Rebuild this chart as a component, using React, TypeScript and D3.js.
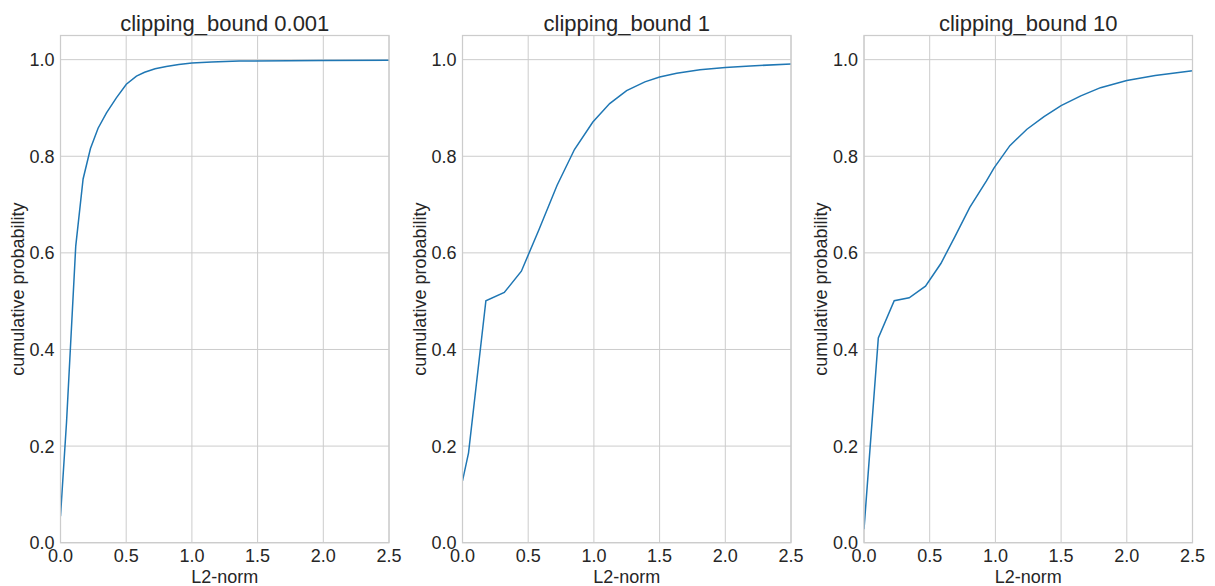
import React from "react";
import * as d3 from "d3";

const titles = ["clipping_bound 0.001", "clipping_bound 1", "clipping_bound 10"];

const xTicks = [0, 0.5, 1.0, 1.5, 2.0, 2.5];
const yTicks = [0, 0.2, 0.4, 0.6, 0.8, 1.0];

const x1 = [0, 0.046, 0.116, 0.172, 0.228, 0.286, 0.35, 0.425, 0.501, 0.578, 0.64, 0.72, 0.805, 0.9, 1.0, 1.15, 1.36, 2.0, 2.5];
const y1 = [0.055, 0.25, 0.614, 0.753, 0.816, 0.858, 0.89, 0.921, 0.949, 0.966, 0.974, 0.981, 0.986, 0.99, 0.993, 0.995, 0.997, 0.998, 0.999];

const x2 = [0, 0.046, 0.178, 0.318, 0.448, 0.58, 0.72, 0.852, 0.992, 1.12, 1.249, 1.388, 1.5, 1.63, 1.807, 2.0, 2.19, 2.5];
const y2 = [0.128, 0.186, 0.501, 0.518, 0.562, 0.647, 0.74, 0.814, 0.871, 0.909, 0.936, 0.954, 0.964, 0.972, 0.979, 0.984, 0.987, 0.991];

const x3 = [0, 0.109, 0.23, 0.344, 0.468, 0.585, 0.691, 0.805, 0.932, 0.99, 1.11, 1.24, 1.37, 1.5, 1.65, 1.8, 2.0, 2.216, 2.5];
const y3 = [0.028, 0.424, 0.501, 0.507, 0.531, 0.578, 0.633, 0.694, 0.749, 0.776, 0.822, 0.856, 0.882, 0.905, 0.925, 0.942, 0.957, 0.967, 0.977];

const seriesX = [x1, x2, x3];
const seriesY = [y1, y2, y3];

const W = 1215;
const H = 586;
const panelLefts = [60.5, 462.5, 864];
const panelW = 328.5;
const top = 35.5;
const bottom = 542.7;
const font = "'Liberation Sans', Arial, Helvetica, sans-serif";
const textColor = "#262626";
const gridColor = "#cccccc";

function Panel({ idx }: { idx: number }) {
  const left = panelLefts[idx];
  const x = d3.scaleLinear().domain([0, 2.5]).range([left, left + panelW]);
  const y = d3.scaleLinear().domain([0, 1.05]).range([bottom, top]);
  const xs = seriesX[idx];
  const ys = seriesY[idx];
  const pts: [number, number][] = xs.map((v, i) => [v, ys[i]]);
  const line = d3
    .line<[number, number]>()
    .x((d) => x(d[0]))
    .y((d) => y(d[1]));
  const clipId = `clip${idx}`;
  return (
    <g>
      <defs>
        <clipPath id={clipId}>
          <rect x={left} y={top} width={panelW} height={bottom - top} />
        </clipPath>
      </defs>
      {xTicks.map((t) => (
        <line key={"gx" + t} x1={x(t)} x2={x(t)} y1={top} y2={bottom} stroke={gridColor} strokeWidth={1} />
      ))}
      {yTicks.map((t) => (
        <line key={"gy" + t} x1={left} x2={left + panelW} y1={y(t)} y2={y(t)} stroke={gridColor} strokeWidth={1} />
      ))}
      <path d={line(pts) || ""} fill="none" stroke="#1f77b4" strokeWidth={1.5} clipPath={`url(#${clipId})`} />
      <rect x={left} y={top} width={panelW} height={bottom - top} fill="none" stroke={gridColor} strokeWidth={1.25} />
      {xTicks.map((t) => (
        <text key={"tx" + t} x={x(t)} y={561.5} textAnchor="middle" fontSize={18} fill={textColor} fontFamily={font}>
          {t.toFixed(1)}
        </text>
      ))}
      {yTicks.map((t) => (
        <text key={"ty" + t} x={left - 6} y={y(t) + 6.5} textAnchor="end" fontSize={18} fill={textColor} fontFamily={font}>
          {t.toFixed(1)}
        </text>
      ))}
      <text x={left + panelW / 2} y={583} textAnchor="middle" fontSize={18} fill={textColor} fontFamily={font}>
        L2-norm
      </text>
      <text
        transform={`translate(${left - 37},${(top + bottom) / 2}) rotate(-90)`}
        textAnchor="middle"
        fontSize={18}
        fill={textColor}
        fontFamily={font}
      >
        cumulative probability
      </text>
      <text x={left + panelW / 2} y={30.5} textAnchor="middle" fontSize={22} fill={textColor} fontFamily={font}>
        {titles[idx]}
      </text>
    </g>
  );
}

export default function App() {
  return (
    <svg width={W} height={H} style={{ position: "absolute", left: 0, top: 0, background: "#ffffff" }}>
      <rect x={0} y={0} width={W} height={H} fill="#ffffff" />
      {[0, 1, 2].map((i) => (
        <Panel key={i} idx={i} />
      ))}
    </svg>
  );
}
